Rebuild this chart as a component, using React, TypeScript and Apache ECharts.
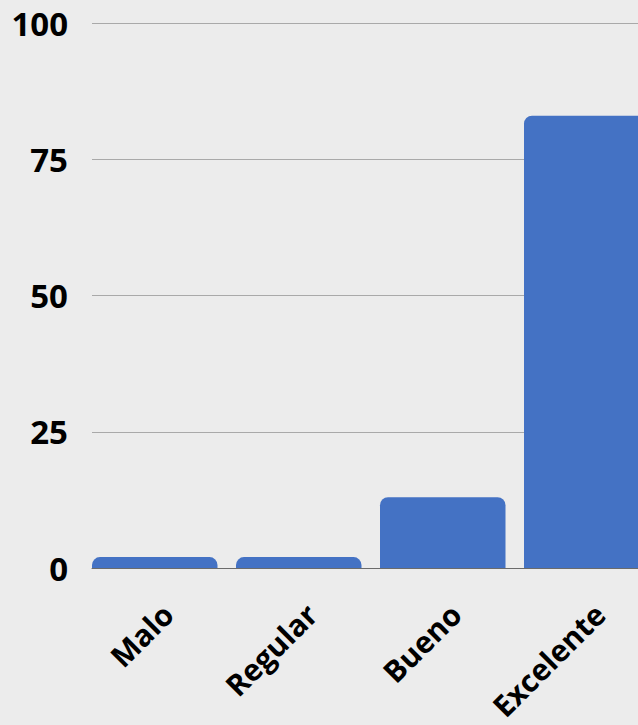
import React, { useEffect, useRef } from "react";
import * as echarts from "echarts";

const categories = ["Malo", "Regular", "Bueno", "Excelente"];
const values = [2, 2, 13, 83];
const yTicks = [0, 25, 50, 75, 100];

const W = 680;
const H = 725;

export default function App() {
  const ref = useRef<HTMLDivElement>(null);
  useEffect(() => {
    const chart = echarts.init(ref.current!, null, { renderer: "svg" });
    const font = "'Open Sans', sans-serif";
    const yMin = yTicks[0];
    const yMax = yTicks[yTicks.length - 1];
    const hiddenY = (gi: number) => ({
      gridIndex: gi,
      type: "value",
      min: yMin,
      max: yMax,
      interval: 25,
      show: false,
      splitLine: { show: false },
    });
    chart.setOption({
      animation: false,
      backgroundColor: "#ececec",
      grid: [
        { left: 92, right: W - 638, top: 23, bottom: 157 },
        { left: 82.75, right: W - 658.75, top: 23, bottom: 157 },
        { left: 95.75, right: W - 671.75, top: 23, bottom: 157 },
      ],
      xAxis: [
        {
          gridIndex: 0,
          type: "category",
          data: categories,
          axisLine: { show: true, lineStyle: { color: "#6b6b6b", width: 1 } },
          axisTick: { show: false },
          axisLabel: { show: false },
        },
        {
          gridIndex: 1,
          type: "category",
          data: categories,
          axisLine: { show: false },
          axisTick: { show: false },
          axisLabel: { show: false },
        },
        {
          gridIndex: 2,
          type: "category",
          data: categories,
          axisLine: { show: false },
          axisTick: { show: false },
          axisLabel: {
            rotate: 45,
            margin: 41,
            fontSize: 30,
            fontWeight: "bold",
            fontFamily: font,
            color: "#000",
          },
        },
      ],
      yAxis: [
        {
          gridIndex: 0,
          type: "value",
          min: yMin,
          max: yMax,
          interval: 25,
          axisLine: { show: false },
          axisTick: { show: false },
          splitLine: { lineStyle: { color: "#a9a9a9", width: 1 } },
          axisLabel: {
            margin: 24,
            fontSize: 33,
            fontWeight: "bold",
            fontFamily: font,
            color: "#000",
          },
        },
        hiddenY(1),
        hiddenY(2),
      ],
      series: [
        {
          type: "bar",
          xAxisIndex: 1,
          yAxisIndex: 1,
          data: values,
          barWidth: 125.5,
          itemStyle: { color: "#4472c4", borderRadius: [8, 8, 0, 0] },
        },
      ],
    });
    return () => chart.dispose();
  }, []);
  return (
    <div style={{ position: "absolute", left: 0, top: 0, width: 638, height: H, overflow: "hidden" }}>
      <div ref={ref} style={{ width: W, height: H }} />
    </div>
  );
}
